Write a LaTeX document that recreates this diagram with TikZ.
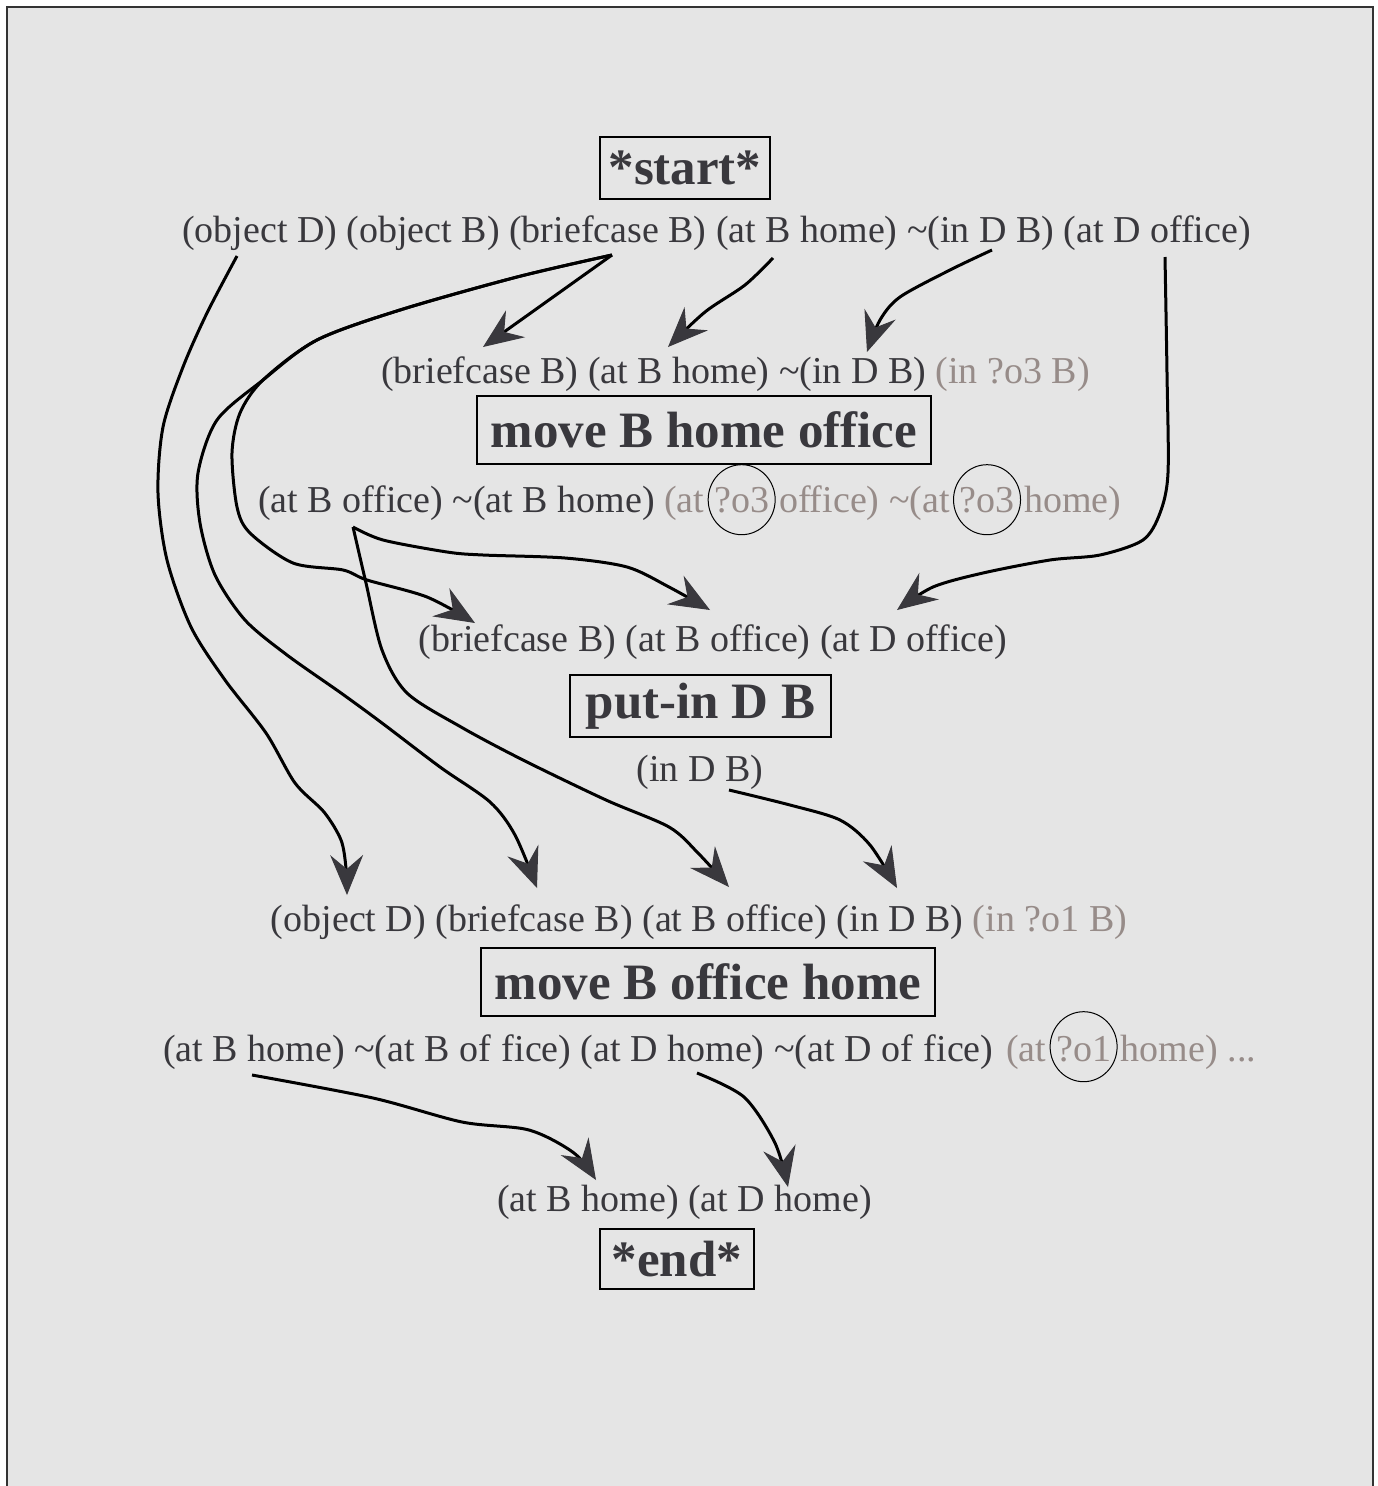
\documentclass[tikz,border=0pt]{standalone}
\usepackage{fontspec}
\setmainfont{Liberation Serif}
\usetikzlibrary{arrows.meta}
\definecolor{ink}{HTML}{39383D}
\definecolor{pale}{HTML}{978C89}
\definecolor{bg}{HTML}{E5E5E5}
\newcommand{\tl}{\textasciitilde}
\newcommand{\offc}{of\kern11pt fice}
\begin{document}
\begin{tikzpicture}[x=1pt,y=-1pt,
  fact/.style={inner sep=0pt,text=ink,font=\fontsize{38}{44}\selectfont},
  piece/.style={fact,anchor=base west},
  gpiece/.style={piece,text=pale},
  act/.style={draw=black,line width=2pt,inner sep=0pt,text=ink,font=\fontsize{51}{58}\selectfont\bfseries},
  ring/.style={line width=1pt},
  link/.style={draw=black,line width=3pt,-{Stealth[length=40pt,width=33pt,inset=14pt,color=ink,line width=1pt]}}]
\useasboundingbox (0,0) rectangle (1377,1486);
\fill[white] (0,0) rectangle (1377,1486);
\fill[bg] (7,7) rectangle (1373,1500);
\draw[line width=2pt,draw=black!80] (7,1500) -- (7,7) -- (1373,7) -- (1373,1500);

% actions
\node[act,minimum width=170pt,minimum height=62pt] (start) at (685,168) {*start*};
\node[act,minimum width=454pt,minimum height=68pt] (move1) at (704,430) {move B home office};
\node[act,minimum width=261pt,minimum height=62pt] (putin) at (700.5,706) {put-in D B};
\node[act,minimum width=454pt,minimum height=68pt] (move2) at (708,982) {move B office home};
\node[act,minimum width=154pt,minimum height=60pt] (end) at (677,1259) {*end*};

% facts
\node[fact] (l1) at (716.5,233) {(object D) (object B) (briefcase B) (at B home) \tl(in D B) (at D office)};
\node[fact] (l2) at (735.5,374) {(briefcase B) (at B home) \tl(in D B) \textcolor{pale}{(in ?o3 B)}};

% line 3 with circled variables
\node[piece] (l3a) at (258,512) {(at B office) \tl(at B home) \textcolor{pale}{(at}};
\node[gpiece] (v1) at ([xshift=9.5pt]l3a.base east) {?o3};
\node[gpiece] (l3b) at ([xshift=9.5pt]v1.base east) {office) \tl(at};
\node[gpiece] (v2) at ([xshift=9.5pt]l3b.base east) {?o3};
\node[gpiece] (l3c) at ([xshift=9.5pt]v2.base east) {home)};
\draw[ring] (v1.center) ellipse [x radius=33.5, y radius=35];
\draw[ring] (v2.center) ellipse [x radius=33.5, y radius=35];

\node[fact] (l4) at (713,642) {(briefcase B) (at B office) (at D office)};
\node[fact] (l5) at (700,772) {(in D B)};
\node[fact] (l6) at (699,922) {(object D) (briefcase B) (at B office) (in D B) \textcolor{pale}{(in ?o1 B)}};

% line 7 with circled variable
\node[piece] (l7a) at (163,1061) {(at B home) \tl(at B \offc) (at D home) \tl(at D \offc)};
\node[gpiece] (l7g) at (1006,1061) {(at};
\node[gpiece] (v3) at ([xshift=9.5pt]l7g.base east) {?o1};
\node[gpiece] (l7b) at ([xshift=9.5pt]v3.base east) {home) ...};
\draw[ring] ([yshift=2pt]v3.center) ellipse [x radius=33.5, y radius=35];

\node[fact] (l8) at (684.5,1202) {(at B home) (at D home)};

% connector end points
\coordinate (s-objD) at (237,256);
\coordinate (s-brief) at (612,255);
\coordinate (s-atBhome) at (773,258);
\coordinate (s-notin) at (992,250);
\coordinate (s-atDoff) at (1165,257);
\coordinate (s-atBoff) at (353,527);
\coordinate (s-inDB) at (729,790);
\coordinate (s-atBhome2) at (252,1075);
\coordinate (s-atDhome) at (697,1073);
\coordinate (e-brief2) at (483,347);
\coordinate (e-atBhome2) at (668,347);
\coordinate (e-notin2) at (867,352);
\coordinate (e-brief4) at (475,623);
\coordinate (e-atBoff4) at (710,610);
\coordinate (e-atDoff4) at (897,610);
\coordinate (e-objD6) at (347,895);
\coordinate (e-brief6) at (537,888);
\coordinate (e-atBoff6) at (729,887);
\coordinate (e-inDB6) at (897,888);
\coordinate (e-atBhome8) at (596,1180);
\coordinate (e-atDhome8) at (788,1187);

% connectors
\draw[link] plot[smooth] coordinates {(s-objD) (207,313) (183,367) (163,427) (158,493) (167,560) (191,627) (225,680) (266,733) (295,783) (324,812) (341,840) (346,868) (e-objD6)};
\draw[link] (s-brief) -- (e-brief2);
\draw[link] plot[smooth] coordinates {(s-brief) (517,277) (400,310) (317,340) (263,380) (240,413) (232,453) (237,507) (250,533) (293,563) (343,570) (367,580) (427,597) (e-brief4)};
\draw[link] plot[smooth] coordinates {(s-brief) (517,277) (400,310) (317,340) (263,380) (217,420) (198,473) (200,523) (215,575) (245,620) (287,655) (341,693) (382,723) (440,767) (490,802) (515,835) (e-brief6)};
\draw[link] plot[smooth] coordinates {(s-atBhome) (745,285) (705,312) (e-atBhome2)};
\draw[link] plot[smooth] coordinates {(s-notin) (950,270) (900,297) (880,320) (e-notin2)};
\draw[link] plot[smooth] coordinates {(s-atDoff) (1167,373) (1168,473) (1160,513) (1143,540) (1100,555) (1050,560) (983,573) (933,587) (e-atDoff4)};
\draw[link] plot[smooth] coordinates {(s-atBoff) (383,540) (447,552) (483,555) (565,558) (627,567) (669,587) (e-atBoff4)};
\draw[link] plot[smooth] coordinates {(s-atBoff) (366,583) (382,650) (407,693) (461,727) (523,760) (606,800) (669,827) (698,853) (e-atBoff6)};
\draw[link] plot[smooth] coordinates {(s-inDB) (790,805) (840,820) (870,845) (e-inDB6)};
\draw[link] plot[smooth] coordinates {(s-atBhome2) (373,1098) (462,1122) (529,1130) (574,1153) (e-atBhome8)};
\draw[link] plot[smooth] coordinates {(s-atDhome) (744,1097) (775,1143) (e-atDhome8)};
\end{tikzpicture}
\end{document}
